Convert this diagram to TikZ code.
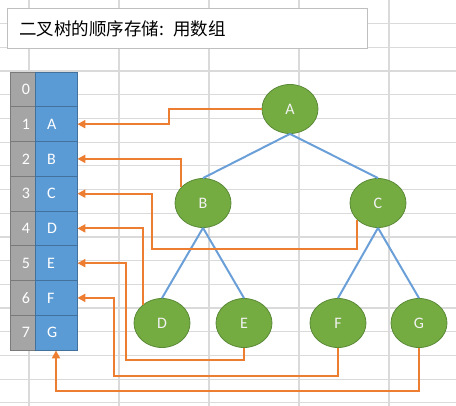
\documentclass[tikz,border=0pt]{standalone}
\usepackage{fontspec}
\setmainfont{Carlito}
\newfontfamily\cjk{Noto Sans CJK SC}
\usetikzlibrary{shapes.geometric,arrows.meta}
\definecolor{gridgray}{HTML}{DADADA}
\definecolor{cellblue}{HTML}{5B9BD5}
\definecolor{cellline}{HTML}{41719C}
\definecolor{idxgray}{HTML}{A5A5A5}
\definecolor{idxline}{HTML}{7A7A7A}
\definecolor{nodegreen}{HTML}{74AC42}
\definecolor{nodeline}{HTML}{5A8A36}
\definecolor{linkorange}{HTML}{ED7D31}
\definecolor{treeblue}{HTML}{6A9FD8}
\definecolor{titleline}{HTML}{BFBFBF}

\tikzset{
  gridline/.style={gridgray,line width=1.2pt},
  titlebox/.style={draw=titleline,fill=white,line width=1pt,minimum height=40pt,
    text width=335pt,inner xsep=12.5pt,inner ysep=0pt,align=left,
    font=\cjk\fontsize{17.5}{17.5}\selectfont},
  idx/.style={draw=idxline,fill=idxgray,text=white,line width=0.8pt,
    minimum height=34.75pt,text width=15pt,inner xsep=5pt,inner ysep=0pt,
    align=right,font=\fontsize{16}{16}\selectfont},
  cell/.style={draw=cellline,fill=cellblue,text=white,line width=0.8pt,
    minimum height=34.75pt,text width=18pt,inner xsep=12pt,inner ysep=0pt,
    align=left,font=\fontsize{16}{16}\selectfont},
  treenode/.style={ellipse,draw=nodeline,fill=nodegreen,text=white!95!black,
    line width=0.8pt,minimum width=56pt,minimum height=49pt,inner sep=0pt,
    font=\fontsize{16}{16}\selectfont},
  treeline/.style={treeblue,line width=2pt},
  arrlink/.style={linkorange,line width=2pt,-{Triangle[length=8pt,width=8pt]}},
}

\begin{document}
\begin{tikzpicture}[x=1pt,y=-1pt]
\useasboundingbox (0,0) rectangle (456,406);
% sheet grid:
\foreach \x in {29,119,209,299,389}
  \draw[gridline] (\x,0) -- (\x,406);
\foreach \k in {1,...,17}
  \draw[gridline] (0,{23.7*\k}) -- (456,{23.7*\k});
% title:
\node[titlebox] (title) at (187,29) {二叉树的顺序存储: 用数组};
% tree:
\node[treenode] (A) at (290,109) {A};
\node[treenode] (B) at (203,203) {B};
\node[treenode] (C) at (378,203) {C};
\node[treenode] (D) at (162,323) {D};
\node[treenode] (E) at (244,323) {E};
\node[treenode] (F) at (338,323) {F};
\node[treenode] (G) at (419,323) {G};
\draw[treeline] (A.south) -- (B.north);
\draw[treeline] (A.south) -- (C.north);
\draw[treeline] (B.south) -- (D.north);
\draw[treeline] (B.south) -- (E.north);
\draw[treeline] (C.south) -- (F.north);
\draw[treeline] (C.south) -- (G.north);
% array:
\foreach \i/\t in {0/,1/A,2/B,3/C,4/D,5/E,6/F,7/G} {
  \node[idx] (n\i) at (22.5,{89.4+34.75*\i}) {\i};
  \node[cell] (c\i) at (56,{89.4+34.75*\i}) {\t};
}
% links into the array:
\draw[arrlink] (A.west) -| (169,124.15) -- (c1.east);
\draw[arrlink] (B.143) |- (c2.east);
\draw[arrlink] (C.219) |- (152,249) |- (c3.east);
\draw[arrlink] (D.137) |- (c4.east);
\draw[arrlink] (E.south) |- (126,360) |- (c5.east);
\draw[arrlink] (F.south) |- (114,376) |- (c6.east);
\draw[arrlink] (G.south) |- (56,391) -- (c7.south);
\end{tikzpicture}
\end{document}
